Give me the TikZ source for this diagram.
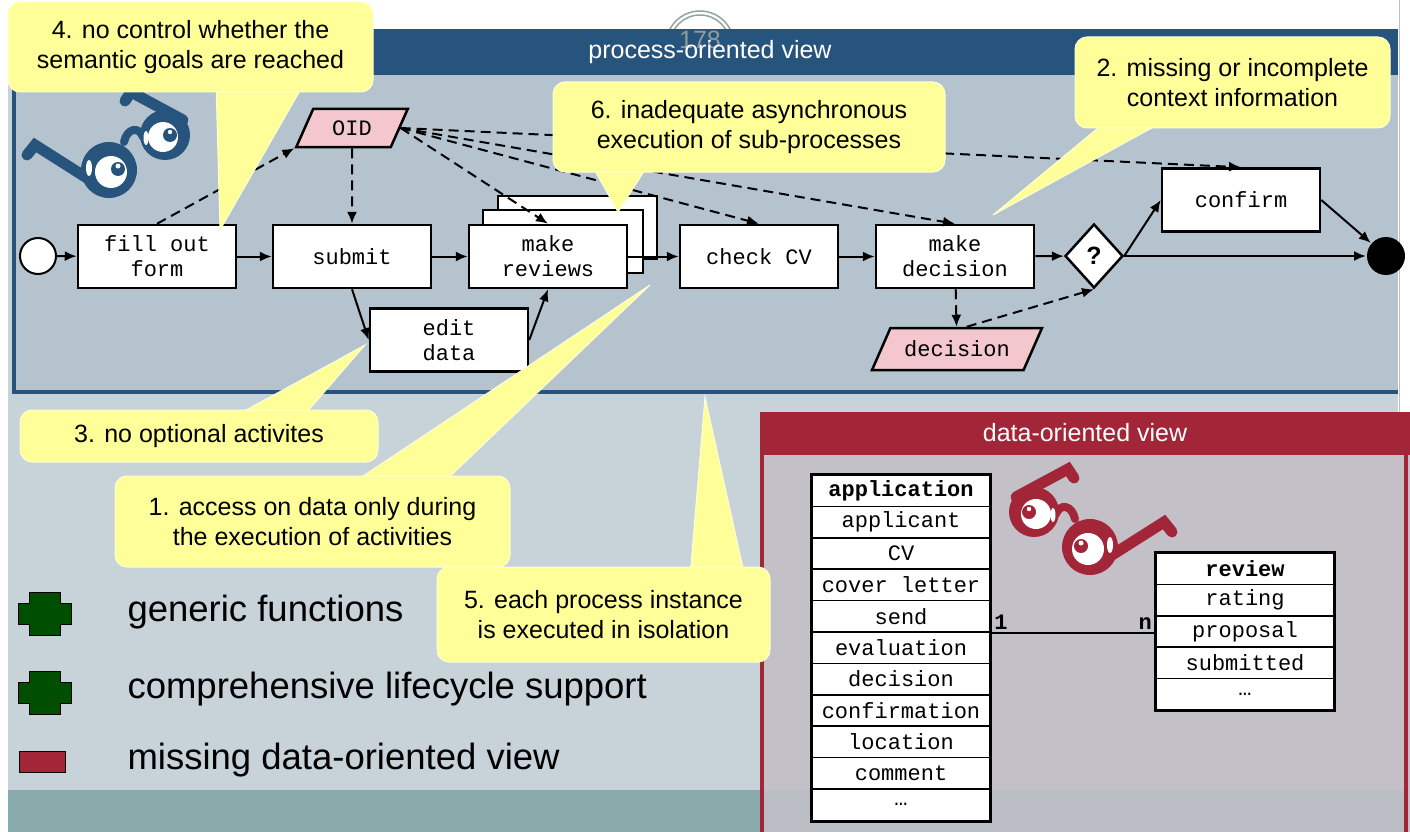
\documentclass[tikz,border=0pt]{standalone}
\usepackage{fontspec}
\setmainfont{Liberation Sans}
\setmonofont{Liberation Mono}
\usepackage{tikz}
\usetikzlibrary{arrows.meta,shapes.geometric}

\definecolor{slidegrey}{HTML}{C7D2D9}
\definecolor{procblue}{HTML}{27547C}
\definecolor{procbody}{HTML}{B5C3CE}
\definecolor{datared}{HTML}{A32638}
\definecolor{databody}{HTML}{C4C0C8}
\definecolor{footteal}{HTML}{8AABAB}
\definecolor{notefill}{HTML}{FFFF99}
\definecolor{objpink}{HTML}{F4C6CE}
\definecolor{plusgreen}{HTML}{004F00}
\definecolor{pagegrey}{HTML}{8FA6A3}

\newcommand{\notefont}{\fontsize{25}{30}\selectfont}
\newcommand{\boxfont}{\fontsize{22}{25}\selectfont\ttfamily}
\newcommand{\legendfont}{\fontsize{36.5}{40}\selectfont}

% a pair of glasses, centred on the big lens
\newcommand{\specs}[1]{%
  \draw[#1,line width=11pt,line cap=round] (-22,8) -- (-74,-25) -- (-82,-15);
  \draw[#1,line width=11pt,line cap=round] (74,-50) -- (22,-78) -- (16,-69);
  \draw[#1,line width=8pt,line cap=round] (15,-28) .. controls (18,-42) and (30,-44) .. (34,-33);
  \fill[#1] (0,0) circle(28);
  \fill[#1] (56,-35) circle(25);
  \fill[white] (2,2) circle(16);
  \fill[#1] (9,-1) circle(7);
  \fill[white] (9,-4) circle(2.5);
  \fill[white] (-20,-2) ellipse(3 and 8);
  \fill[white] (54,-33) circle(15);
  \fill[#1] (61,-35) circle(7);
  \fill[white] (61,-38) circle(2.2);
  \fill[white] (37,-32) ellipse(2.5 and 7);
}

\tikzset{
  act/.style={draw, line width=2.5pt, fill=white, minimum width=158pt,
    minimum height=63pt, inner sep=0pt, align=center, font=\boxfont},
  dataobj/.style={trapezium, trapezium stretches=true, draw, line width=2.5pt,
    fill=objpink, inner sep=0pt, font=\boxfont},
  dataflow/.style={dash pattern=on 10pt off 6pt},
  cell/.style={draw, line width=1.5pt, fill=white, minimum width=178pt,
    minimum height=31.4pt, inner sep=0pt, font=\boxfont},
  remark/.style={fill=notefill, draw=white!60!notefill, line width=1pt,
    rounded corners=12pt, inner sep=0pt, align=center, font=\notefont},
  spike/.style={fill=notefill, draw=white!60!notefill, line width=1pt},
}

\begin{document}
\begin{tikzpicture}[x=1pt,y=-1pt]
\useasboundingbox (0,0) rectangle (1410,832);

% slide
\fill[white] (0,0) rectangle (1410,832);
\fill[slidegrey] (8,30) rectangle (1398,832);
\fill[footteal] (8,790) rectangle (760,832);
\draw[gray!50] (1399,0) -- (1399,412);
\draw[pagegrey,line width=1.5pt] (700,45) circle(30) (700,45) circle(34);

% process-oriented view
\fill[procbody] (14,75) rectangle (1398,392);
\draw[procblue,line width=3.5pt] (14,75) -- (14,392) -- (1398,392);
\fill[procblue] (14,29) rectangle (1398,75);
\node[pagegrey!80!gray,font=\notefont] (pageno) at (700,40) {178};
\node[white,font=\notefont] (proctitle) at (710,52) {process-oriented view};

\begin{scope}[shift={(109,170)}]
  \specs{procblue}
\end{scope}

\begin{scope}[>={Latex[length=12pt,width=10pt]},line width=2pt]
  % copies behind make reviews
  \draw[line width=2.5pt,fill=white] (498,196) rectangle (657,259);
  \draw[line width=2.5pt,fill=white] (483,210) rectangle (643,273);

  \node[circle,draw,line width=2pt,fill=white,minimum size=36pt,inner sep=0pt] (start) at (38,256) {};
  \node[act] (form) at (157,256.5) {fill out\\form};
  \node[act] (submit) at (352,256.5) {submit};
  \node[act] (review) at (548,256.5) {make\\reviews};
  \node[act] (cv) at (759,256.5) {check CV};
  \node[act] (decide) at (955,256.5) {make\\decision};
  \node[diamond,draw,line width=2.5pt,fill=white,minimum width=58pt,minimum height=64pt,
        inner sep=0pt,font=\notefont\bfseries] (gate) at (1094,256) {?};
  \node[act] (confirm) at (1241,200) {confirm};
  \node[circle,fill=black,minimum size=38pt,inner sep=0pt] (stop) at (1386,256) {};
  \node[act] (edit) at (449,340) {edit\\data};

  \node[dataobj,trapezium left angle=60,trapezium right angle=120,
        minimum width=112pt,minimum height=38pt] (oid) at (352,128) {OID};
  \node[dataobj,trapezium left angle=48,trapezium right angle=132,
        minimum width=170pt,minimum height=42pt] (decision) at (957,349) {decision};

  % control flow
  \draw[->] (start) -- (form);
  \draw[->] (form) -- (submit);
  \draw[->] (submit) -- (review);
  \draw[->] (review) -- (cv);
  \draw[->] (cv) -- (decide);
  \draw[->] (decide) -- (gate);
  \draw[->] (gate.east) -- (confirm.west);
  \draw[->] (gate.east) -- (stop);
  \draw[->] (confirm.east) -- (stop);
  \draw[->] (submit.south) -- (edit.west);
  \draw[->] (edit.east) -- (review.south);

  % data flow
  \draw[dataflow,->] (form.north) -- (oid.bottom left corner);
  \draw[dataflow,->] (oid) -- (submit);
  \draw[dataflow,->] (oid.east) -- (review.north);
  \draw[dataflow,->] (oid.east) -- (cv.north);
  \draw[dataflow,->] (oid.east) -- (decide.north);
  \draw[dataflow,->] (oid.east) -- (confirm.north);
  \draw[dataflow,->] (decide) -- (decision);
  \draw[dataflow,->] (decision.top side) -- (gate.south);
\end{scope}

% data-oriented view
\fill[databody] (760,455) rectangle (1410,832);
\fill[databody!85!footteal] (764,790) rectangle (1404,832);
\draw[datared,line width=4pt] (762,455) -- (762,832) (1406,455) -- (1406,832);
\fill[datared] (760,412) rectangle (1410,455);
\node[white,font=\notefont] (datatitle) at (1085,433) {data-oriented view};

\begin{scope}[shift={(1090,547)},xscale=-1]
  \specs{datared}
\end{scope}

\node[cell,font=\boxfont\bfseries] (app0) at (901,490.7) {application};
\foreach \t [count=\i] in {applicant,CV,cover letter,send,evaluation,decision,
    confirmation,location,comment,…}
  \node[cell] (app\i) at (901,{490.7+31.4*\i}) {\t};
\draw[line width=3pt] (app0.north west) rectangle (app10.south east);

\node[cell,font=\boxfont\bfseries] (rev0) at (1245,568.7) {review};
\foreach \t [count=\i] in {rating,proposal,submitted,…}
  \node[cell] (rev\i) at (1245,{568.7+31.4*\i}) {\t};
\draw[line width=3pt] (rev0.north west) rectangle (rev4.south east);

\draw[line width=2.5pt] (app4.south east) -- (app4.south east -| rev2.west);
\node[font=\boxfont\bfseries,anchor=south west] (one) at (app4.south east) {1};
\node[font=\boxfont\bfseries,anchor=south east] (many) at (app4.south east -| rev2.west) {n};

% legend
\filldraw[fill=plusgreen,draw=black,line width=1pt]
  (29,592) -| (60,603) -| (71,624) -| (60,635) -| (29,624) -| (18,603) -| cycle;
\filldraw[fill=plusgreen,draw=black,line width=1pt]
  (29,671) -| (60,682) -| (71,703) -| (60,714) -| (29,703) -| (18,682) -| cycle;
\filldraw[fill=datared,draw=black,line width=1pt] (19,751) rectangle (65,772);
\node[anchor=west,font=\legendfont] (lg1) at (124,612) {generic functions};
\node[anchor=west,font=\legendfont] (lg2) at (124,689) {comprehensive lifecycle support};
\node[anchor=west,font=\legendfont] (lg3) at (124,760) {missing data-oriented view};

% remarks
\filldraw[spike] (216,82) -- (305,82) -- (220,230) -- cycle;
\node[remark,minimum width=365pt,minimum height=90pt] (r4) at (190.5,47)
  {4. no control whether the\\semantic goals are reached};
\filldraw[spike] (1110,118) -- (1170,118) -- (993,215) -- cycle;
\node[remark,minimum width=315pt,minimum height=91pt] (r2) at (1232.5,82.5)
  {2. missing or incomplete\\context information};
\filldraw[spike] (590,162) -- (650,162) -- (618,212) -- cycle;
\node[remark,minimum width=392pt,minimum height=90pt] (r6) at (749,127)
  {6. inadequate asynchronous\\execution of sub-processes};
\filldraw[spike] (228,420) -- (300,420) -- (365,345) -- cycle;
\node[remark,minimum width=358pt,minimum height=52pt] (r3) at (199,436)
  {3. no optional activites};
\filldraw[spike] (348,486) -- (440,486) -- (650,285) -- cycle;
\node[remark,minimum width=395pt,minimum height=91pt] (r1) at (312.5,521.5)
  {1. access on data only during\\the execution of activities};
\filldraw[spike] (690,577) -- (745,577) -- (705,397) -- cycle;
\node[remark,minimum width=333pt,minimum height=95pt] (r5) at (603.5,614.5)
  {5. each process instance\\is executed in isolation};
\end{tikzpicture}
\end{document}
